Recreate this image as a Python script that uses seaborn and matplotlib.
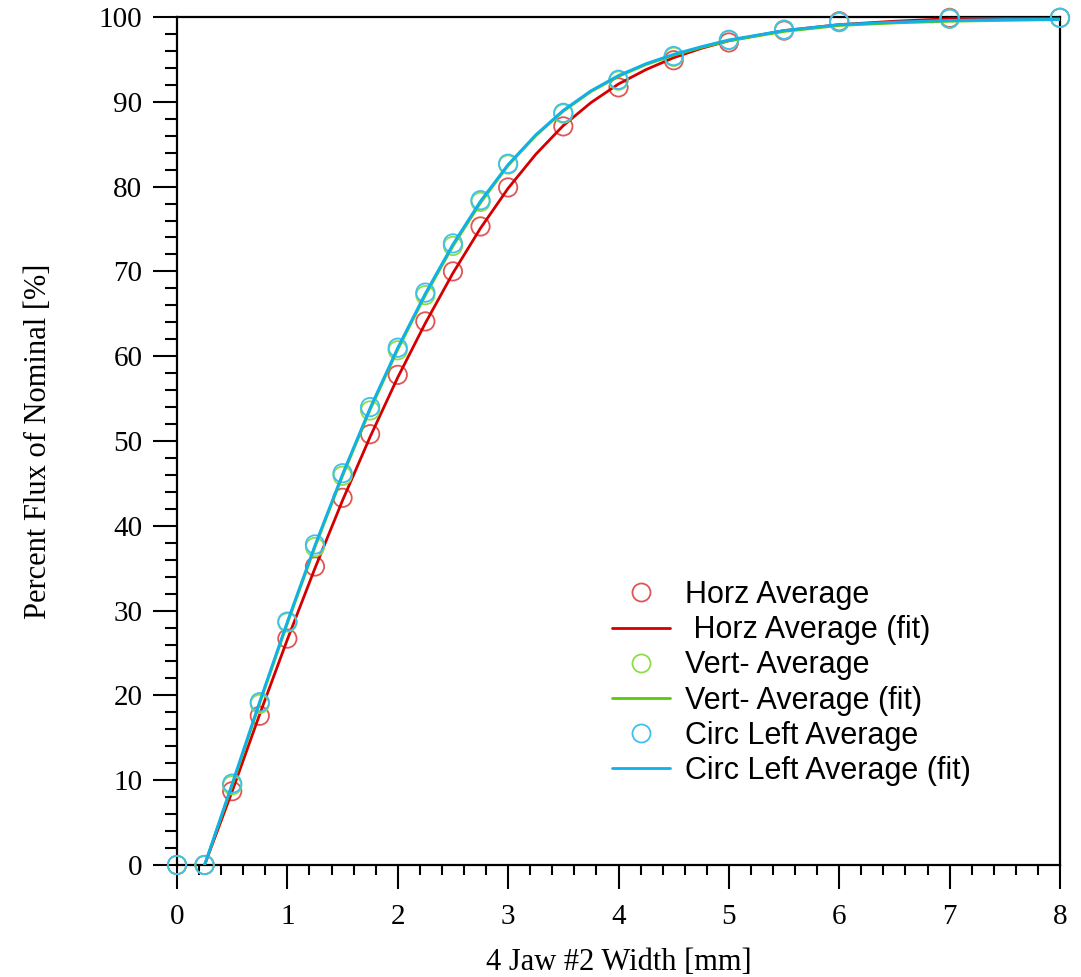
import matplotlib
matplotlib.use("Agg")
import matplotlib.pyplot as plt
from matplotlib.ticker import MultipleLocator
import seaborn as sns
import numpy as np

# ---- data ----
width_mm = [0, 0.25, 0.5, 0.75, 1, 1.25, 1.5, 1.75, 2, 2.25, 2.5, 2.75, 3,
            3.5, 4, 4.5, 5, 5.5, 6, 7, 8]
horz_avg = [0, 0, 8.7, 17.6, 26.7, 35.2, 43.3, 50.8, 57.8, 64.1, 70.0, 75.3, 79.9,
            87.1, 91.7, 94.9, 97.0, 98.4, 99.5, 99.9, 99.9]
vert_avg = [0, 0, 9.4, 19.0, 28.6, 37.5, 45.9, 53.6, 60.7, 67.2, 73.0, 78.2, 82.6,
            88.6, 92.5, 95.3, 97.3, 98.5, 99.4, 99.8, 99.9]
circ_avg = [0, 0, 9.6, 19.2, 28.7, 37.8, 46.2, 54.0, 61.0, 67.5, 73.3, 78.4, 82.7,
            88.7, 92.6, 95.4, 97.3, 98.5, 99.4, 99.8, 99.9]

fit_x = [0.25, 0.5, 0.75, 1, 1.25, 1.5, 1.75, 2, 2.25, 2.5, 2.75, 3, 3.25, 3.5,
         3.75, 4, 4.25, 4.5, 4.75, 5, 5.5, 6, 6.5, 7, 7.5, 8]
horz_fit = [0, 8.7, 17.8, 26.6, 35.0, 43.0, 50.5, 57.5, 63.9, 69.8, 75.1, 79.8, 83.8, 87.2,
            89.9, 92.1, 93.8, 95.2, 96.3, 97.2, 98.4, 99.1, 99.5, 99.8, 99.9, 100.0]
vert_fit = [0, 9.4, 19.1, 28.5, 37.5, 45.9, 53.7, 60.8, 67.2, 73.0, 78.1, 82.5, 86.0, 88.9,
            91.2, 93.0, 94.4, 95.5, 96.4, 97.2, 98.3, 99.0, 99.3, 99.5, 99.6, 99.7]
circ_fit = [0, 9.6, 19.3, 28.7, 37.7, 46.1, 53.9, 61.0, 67.4, 73.2, 78.3, 82.6, 86.1, 89.0,
            91.3, 93.1, 94.5, 95.6, 96.5, 97.3, 98.4, 99.1, 99.4, 99.6, 99.7, 99.7]

labels = ["Horz Average", " Horz Average (fit)", "Vert- Average", "Vert- Average (fit)",
          "Circ Left Average", "Circ Left Average (fit)"]
point_colors = ["#e05555", "#8fdc4a", "#3ec0ef"]
line_colors = ["#d40000", "#5cc80a", "#0fb0ec"]

sns.set_theme(style="white")
plt.rcParams["font.family"] = ["Liberation Serif", "DejaVu Serif"]
plt.rcParams["text.color"] = "black"
plt.rcParams["axes.labelcolor"] = "black"
plt.rcParams["xtick.color"] = "black"
plt.rcParams["ytick.color"] = "black"

fig = plt.figure(figsize=(10.81, 9.77), dpi=100)
ax = fig.add_axes([177 / 1081, 1 - 865 / 977, (1060 - 177) / 1081, (865 - 17) / 977])

handles = []
for pts, fit, pc, lc, z in zip(
        [horz_avg, vert_avg, circ_avg], [horz_fit, vert_fit, circ_fit],
        point_colors, line_colors, [3, 4, 5]):
    sns.scatterplot(x=width_mm, y=pts, ax=ax, marker="o", s=175,
                    facecolor="none", edgecolor=pc, linewidth=1.3,
                    clip_on=False, zorder=z, legend=False)
    sns.lineplot(x=fit_x, y=fit, ax=ax, color=lc, linewidth=2.0,
                 zorder=z + 0.5, legend=False, sort=True, estimator=None)
    handles.append(plt.Line2D([], [], linestyle="none", marker="o", markersize=13,
                              markerfacecolor="none", markeredgecolor=pc,
                              markeredgewidth=1.3))
    handles.append(plt.Line2D([], [], color=lc, linewidth=2.0))

ax.set_xlim(0, 8)
ax.set_ylim(0, 100)
ax.xaxis.set_major_locator(MultipleLocator(1))
ax.xaxis.set_minor_locator(MultipleLocator(0.2))
ax.yaxis.set_major_locator(MultipleLocator(10))
ax.yaxis.set_minor_locator(MultipleLocator(2))

for s in ax.spines.values():
    s.set_color("black")
    s.set_linewidth(1.6)

ax.tick_params(axis="x", which="major", direction="out", length=17, width=1.5,
               color="black", labelcolor="black", labelsize=21, pad=11, bottom=True)
ax.tick_params(axis="x", which="minor", direction="out", length=7.5, width=1.5,
               color="black", bottom=True)
ax.tick_params(axis="y", which="major", direction="out", length=17, width=1.5,
               color="black", labelcolor="black", labelsize=21, pad=8, left=True)
ax.tick_params(axis="y", which="minor", direction="out", length=9, width=1.5,
               color="black", left=True)

ax.set_xlabel("4 Jaw #2 Width [mm]", fontsize=22, labelpad=13, color="black")
ax.set_ylabel("Percent Flux of Nominal [%]", fontsize=22, labelpad=33, color="black")

leg = ax.legend(handles, labels, loc="upper left",
                bbox_to_anchor=(612 / 1081, 1 - 580 / 977),
                bbox_transform=fig.transFigure, frameon=False,
                prop={"family": "Liberation Sans", "size": 22},
                handlelength=1.9, handletextpad=0.5, labelspacing=0.17,
                borderpad=0, borderaxespad=0)
for t in leg.get_texts():
    t.set_color("black")

fig.savefig("out.png", dpi=100)
